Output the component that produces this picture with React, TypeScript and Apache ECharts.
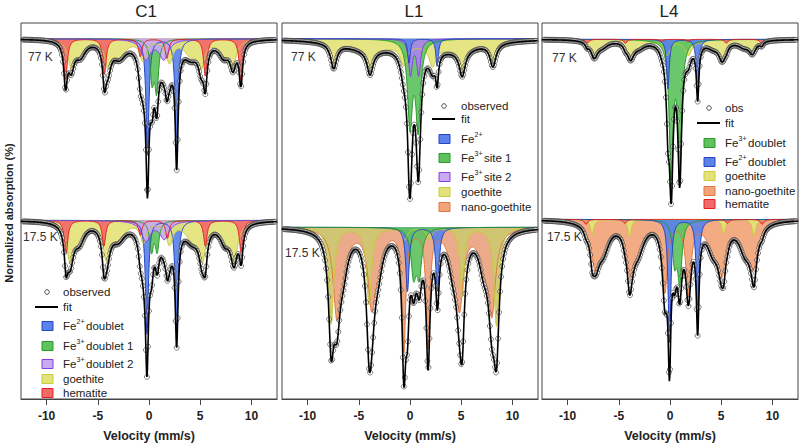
import React, { useEffect, useRef } from 'react';
import * as echarts from 'echarts';

// Each absorption line: [velocity (mm/s), depth (absorption units), half width (mm/s)]
type Line = [number, number, number];

const VEL_MIN = -12.5;
const VEL_MAX = 12.5;
const TICKS = [-10, -5, 0, 5, 10];
const PANEL_TITLES = ['C1', 'L1', 'L4'];
const TEMPS = ['77 K', '17.5 K'];

// ---------- C1, 77 K ----------
const C1_77_FE2: Line[] = [[-0.15, 118, 0.17], [2.7, 116, 0.17]];
const C1_77_FE3A: Line[] = [[0.3, 40, 0.22], [0.75, 50, 0.22]];
const C1_77_FE3B: Line[] = [[-0.3, 20, 0.55], [1.45, 20, 0.55]];
const C1_77_GOE: Line[] = [[-7.6, 26, 0.35], [-6.7, 15, 0.6], [-4.0, 24, 0.35], [-2.9, 16, 0.8], [-0.6, 20, 0.35], [2.0, 22, 0.4], [5.1, 24, 0.35], [4.1, 15, 0.8], [8.2, 25, 0.35], [7.3, 15, 0.6]];
const C1_77_HEM: Line[] = [[-8.15, 42, 0.2], [-4.35, 36, 0.2], [-0.85, 18, 0.2], [1.75, 20, 0.2], [5.5, 38, 0.2], [8.97, 42, 0.2]];

// ---------- C1, 17.5 K ----------
const C1_17_FE2: Line[] = [[-0.2, 115, 0.17], [2.7, 112, 0.17]];
const C1_17_FE3A: Line[] = [[0.25, 30, 0.22], [0.8, 30, 0.22]];
const C1_17_FE3B: Line[] = [[-0.3, 20, 0.55], [1.5, 18, 0.55]];
const C1_17_GOE: Line[] = [[-7.7, 38, 0.4], [-6.8, 18, 0.6], [-4.15, 35, 0.4], [-3.0, 16, 0.8], [-0.55, 20, 0.35], [2.0, 22, 0.4], [5.2, 35, 0.4], [4.2, 16, 0.8], [8.3, 38, 0.4], [7.4, 18, 0.6]];
const C1_17_HEM: Line[] = [[-8.1, 34, 0.2], [-4.4, 26, 0.2], [-0.85, 15, 0.2], [1.8, 18, 0.2], [5.5, 26, 0.2], [9.0, 33, 0.2]];

// ---------- L1, 77 K ----------
const L1_77_FE2: Line[] = [[-0.1, 25, 0.15], [2.65, 28, 0.15]];
const L1_77_FE3A: Line[] = [[0.0, 85, 0.28], [0.8, 88, 0.28]];
const L1_77_FE3B: Line[] = [[0.05, 36, 0.22], [0.85, 36, 0.22]];
const L1_77_GOE: Line[] = [[-7.45, 25, 0.35], [-3.9, 24, 0.35], [-0.6, 20, 0.4], [2.2, 20, 0.4], [5.1, 26, 0.35], [8.1, 23, 0.35], [-4.0, 10, 3.0], [4.6, 10, 3.0]];

// ---------- L1, 17.5 K ----------
const L1_17_FE2: Line[] = [[-0.25, 65, 0.2], [2.68, 65, 0.2]];
const L1_17_FE3A: Line[] = [[0.35, 45, 0.3], [0.9, 45, 0.3]];
const L1_17_GOE: Line[] = [[-7.7, 98, 0.3], [-4.0, 78, 0.3], [-0.5, 12, 0.3], [1.9, 12, 0.3], [5.1, 70, 0.25], [8.45, 100, 0.3]];
const L1_17_NANO: Line[] = [[-7.15, 80, 0.42], [-6.5, 30, 0.55], [-3.75, 70, 0.42], [-3.1, 30, 0.55], [-0.6, 122, 0.22], [1.76, 118, 0.22], [4.85, 70, 0.42], [4.2, 30, 0.55], [8.0, 80, 0.42], [7.2, 30, 0.55]];

// ---------- L4, 77 K ----------
const L4_77_FE3: Line[] = [[0.12, 140, 0.22], [0.95, 135, 0.22]];
const L4_77_FE2: Line[] = [[-0.2, 50, 0.15], [2.7, 55, 0.15]];
const L4_77_GOE: Line[] = [[-7.4, 16, 0.4], [-6.6, 6, 0.7], [-3.85, 17, 0.4], [-3.0, 6, 0.7], [-0.3, 15, 0.4], [1.8, 15, 0.4], [5.1, 18, 0.4], [4.2, 6, 0.7], [8.05, 12, 0.4], [7.2, 6, 0.7]];
const L4_77_HEM: Line[] = [[-8.1, 4, 0.2], [-4.35, 4, 0.2], [-0.85, 2, 0.2], [1.75, 2, 0.2], [5.5, 4, 0.2], [8.95, 4, 0.2]];

// ---------- L4, 17.5 K ----------
const L4_17_FE3: Line[] = [[0.45, 40, 0.25], [0.95, 60, 0.25]];
const L4_17_FE2: Line[] = [[-0.05, 125, 0.16], [2.7, 100, 0.16]];
const L4_17_GOE: Line[] = [[-7.6, 15, 0.2], [-3.95, 17, 0.2], [5.25, 15, 0.2], [8.2, 17, 0.2]];
const L4_17_NANO: Line[] = [[-7.3, 40, 0.5], [-6.5, 25, 0.7], [-3.9, 45, 0.45], [-3.1, 25, 0.7], [-0.5, 70, 0.3], [1.8, 72, 0.3], [5.05, 45, 0.45], [4.2, 25, 0.7], [8.15, 40, 0.5], [7.3, 25, 0.7]];
const L4_17_HEM: Line[] = [[-8.2, 5, 0.2], [-4.4, 4, 0.2], [5.6, 4, 0.2], [9.0, 5, 0.2]];

// ---------- legends ----------
type LegendItem = { kind: string; base: string; sup?: string; rest?: string };
const C1_LEGEND: LegendItem[] = [
  { kind: 'obs', base: 'observed' },
  { kind: 'fit', base: 'fit' },
  { kind: 'fe2', base: 'Fe', sup: '2+', rest: 'doublet' },
  { kind: 'fe3a', base: 'Fe', sup: '3+', rest: 'doublet 1' },
  { kind: 'fe3b', base: 'Fe', sup: '3+', rest: 'doublet 2' },
  { kind: 'goe', base: 'goethite' },
  { kind: 'hem', base: 'hematite' },
];
const L1_LEGEND: LegendItem[] = [
  { kind: 'obs', base: 'observed' },
  { kind: 'fit', base: 'fit' },
  { kind: 'fe2', base: 'Fe', sup: '2+' },
  { kind: 'fe3a', base: 'Fe', sup: '3+', rest: 'site 1' },
  { kind: 'fe3b', base: 'Fe', sup: '3+', rest: 'site 2' },
  { kind: 'goe', base: 'goethite' },
  { kind: 'nano', base: 'nano-goethite' },
];
const L4_LEGEND: LegendItem[] = [
  { kind: 'obs', base: 'obs' },
  { kind: 'fit', base: 'fit' },
  { kind: 'fe3a', base: 'Fe', sup: '3+', rest: 'doublet' },
  { kind: 'fe2', base: 'Fe', sup: '2+', rest: 'doublet' },
  { kind: 'goe', base: 'goethite' },
  { kind: 'nano', base: 'nano-goethite' },
  { kind: 'hem', base: 'hematite' },
];

// ---------- styles / layout ----------
const STYLES: Record<string, { fill: string; stroke: string }> = {
  fe2: { fill: '#5a82e8', stroke: '#2444c4' },
  fe3a: { fill: '#5ec25e', stroke: '#279a27' },
  fe3b: { fill: '#c7aaf2', stroke: '#8a3de0' },
  goe: { fill: '#e3e37a', stroke: '#c9c93c' },
  nano: { fill: '#f2a47a', stroke: '#e0763f' },
  hem: { fill: '#f26a6a', stroke: '#e41f1f' },
};

const FONT = "'Liberation Sans', Arial, sans-serif";
const GRID_TOP = 23;
const GRID_H = 381;
const PANELS = [
  { left: 21, width: 256, titleX: 146 },
  { left: 282, width: 256, titleX: 414 },
  { left: 542, width: 256, titleX: 669 },
];

type Comp = [string, Line[], string?];
const SPECTRA: { panel: number; base: number; temp: number; lx: number; ly: number; comps: Comp[] }[] = [
  { panel: 0, base: 16, temp: 0, lx: 28, ly: 57, comps: [['fe2', C1_77_FE2], ['fe3a', C1_77_FE3A], ['goe', C1_77_GOE], ['hem', C1_77_HEM], ['fe3b', C1_77_FE3B]] },
  { panel: 0, base: 200, temp: 1, lx: 23, ly: 237, comps: [['fe2', C1_17_FE2], ['fe3a', C1_17_FE3A], ['goe', C1_17_GOE], ['hem', C1_17_HEM], ['fe3b', C1_17_FE3B]] },
  { panel: 1, base: 16, temp: 0, lx: 291, ly: 57, comps: [['goe', L1_77_GOE], ['fe3a', L1_77_FE3A], ['fe3b', L1_77_FE3B, '#ab84ea'], ['fe2', L1_77_FE2]] },
  { panel: 1, base: 207, temp: 1, lx: 285, ly: 253, comps: [['nano', L1_17_NANO, '#e9a37f'], ['goe', L1_17_GOE, '#cdc870'], ['fe2', L1_17_FE2], ['fe3a', L1_17_FE3A]] },
  { panel: 2, base: 16.5, temp: 0, lx: 552, ly: 58, comps: [['goe', L4_77_GOE], ['fe3a', L4_77_FE3], ['fe2', L4_77_FE2], ['hem', L4_77_HEM]] },
  { panel: 2, base: 199, temp: 1, lx: 547, ly: 237, comps: [['nano', L4_17_NANO], ['goe', L4_17_GOE], ['fe3a', L4_17_FE3], ['fe2', L4_17_FE2], ['hem', L4_17_HEM]] },
];

const LEGENDS = [
  { items: C1_LEGEND, symX: 42, textX: 63, rows: [292, 307, 326, 346, 364, 379, 393] },
  { items: L1_LEGEND, symX: 439, textX: 461, rows: [106, 119, 139, 158, 177, 192, 207] },
  { items: L4_LEGEND, symX: 704, textX: 725, rows: [108, 123, 143, 162, 176, 191, 204] },
];

function absorption(lines: Line[], v: number): number {
  let s = 0;
  for (const [p, d, w] of lines) s += (d * w * w) / (w * w + (v - p) * (v - p));
  return s;
}

const FINE_V: number[] = [];
for (let i = 0; i <= 1250; i++) FINE_V.push(VEL_MIN + i * 0.02);
const OBS_V: number[] = [];
for (let i = 2; i <= 248; i++) OBS_V.push(VEL_MIN + i * 0.1);

function buildOption() {
  const series: any[] = [];
  SPECTRA.forEach((s) => {
    const all: Line[] = s.comps.flatMap((c) => c[1]);
    s.comps.forEach(([key, lines, fillOverride]) => {
      series.push({
        type: 'line', xAxisIndex: s.panel, yAxisIndex: s.panel, silent: true,
        symbol: 'none', z: 2,
        data: FINE_V.map((v) => [v, s.base + absorption(lines, v)]),
        lineStyle: { color: STYLES[key].stroke, width: 1 },
        areaStyle: { color: fillOverride || STYLES[key].fill, opacity: 0.92, origin: s.base },
      });
    });
    series.push({
      type: 'scatter', xAxisIndex: s.panel, yAxisIndex: s.panel, silent: true, z: 3,
      symbol: 'circle', symbolSize: 5,
      data: OBS_V.map((v) => [v, s.base + absorption(all, v)]),
      itemStyle: { color: 'rgba(255,255,255,0.55)', borderColor: '#3a3a3a', borderWidth: 0.8 },
    });
    series.push({
      type: 'line', xAxisIndex: s.panel, yAxisIndex: s.panel, silent: true, symbol: 'none', z: 4,
      data: FINE_V.map((v) => [v, s.base + absorption(all, v)]),
      lineStyle: { color: '#000', width: 1.6 },
    });
  });

  const graphics: any[] = [];
  PANELS.forEach((p, i) => {
    graphics.push({ type: 'text', x: p.titleX, y: 11, style: { text: PANEL_TITLES[i], font: `17px ${FONT}`, fill: '#222', textAlign: 'center', textVerticalAlign: 'middle' } });
  });
  graphics.push({ type: 'text', x: 9, y: 213, rotation: Math.PI / 2, style: { text: 'Normalized absorption (%)', font: `bold 11px ${FONT}`, fill: '#222', textAlign: 'center', textVerticalAlign: 'middle' } });
  SPECTRA.forEach((s) => {
    graphics.push({ type: 'text', x: s.lx, y: s.ly, style: { text: TEMPS[s.temp], font: `12px ${FONT}`, fill: '#333', textVerticalAlign: 'middle' } });
  });
  LEGENDS.forEach((lg) => {
    lg.items.forEach((it, j) => {
      const y = lg.rows[j];
      if (it.kind === 'obs') {
        graphics.push({ type: 'circle', shape: { cx: lg.symX + 5, cy: y, r: 2.3 }, style: { fill: '#fff', stroke: '#444', lineWidth: 0.9 } });
      } else if (it.kind === 'fit') {
        graphics.push({ type: 'line', shape: { x1: lg.symX - 7, y1: y, x2: lg.symX + 16, y2: y }, style: { stroke: '#000', lineWidth: 2 } });
      } else {
        graphics.push({ type: 'rect', shape: { x: lg.symX, y: y - 4.5, width: 11, height: 9 }, style: { fill: STYLES[it.kind].fill, stroke: STYLES[it.kind].stroke, lineWidth: 1 } });
      }
      graphics.push({ type: 'text', x: lg.textX, y, style: { text: it.base, font: `11.5px ${FONT}`, fill: '#222', textVerticalAlign: 'middle' } });
      if (it.sup) {
        graphics.push({ type: 'text', x: lg.textX + 13.5, y: y - 5, style: { text: it.sup, font: `7px ${FONT}`, fill: '#222', textVerticalAlign: 'middle' } });
      }
      if (it.rest) {
        graphics.push({ type: 'text', x: lg.textX + 23, y, style: { text: it.rest, font: `11.5px ${FONT}`, fill: '#222', textVerticalAlign: 'middle' } });
      }
    });
  });

  return {
    animation: false,
    backgroundColor: '#fff',
    grid: PANELS.map((p) => ({ left: p.left, top: GRID_TOP, width: p.width, height: GRID_H, show: true, borderColor: '#444', borderWidth: 1, backgroundColor: 'transparent' })),
    xAxis: PANELS.map((_, i) => ({
      gridIndex: i, type: 'value', min: VEL_MIN, max: VEL_MAX,
      axisLine: { show: true, onZero: false, lineStyle: { color: '#444' } },
      axisTick: { show: true, customValues: TICKS, length: 6, lineStyle: { color: '#444' } },
      axisLabel: { customValues: TICKS, fontWeight: 'bold', fontSize: 12, fontFamily: FONT, color: '#222', margin: 11 },
      splitLine: { show: false },
      name: 'Velocity (mm/s)', nameLocation: 'middle', nameGap: 30,
      nameTextStyle: { fontWeight: 'bold', fontSize: 12.5, fontFamily: FONT, color: '#222' },
    })),
    yAxis: PANELS.map((_, i) => ({ gridIndex: i, type: 'value', min: 0, max: GRID_H, inverse: true, show: false, splitLine: { show: false } })),
    series,
    graphic: graphics,
  };
}

export default function App() {
  const ref = useRef<HTMLDivElement>(null);
  useEffect(() => {
    document.body.style.margin = '0';
    if (!ref.current) return;
    const chart = echarts.init(ref.current, undefined, { renderer: 'svg' });
    chart.setOption(buildOption() as any);
    return () => chart.dispose();
  }, []);
  return <div ref={ref} style={{ width: 800, height: 447 }} />;
}
